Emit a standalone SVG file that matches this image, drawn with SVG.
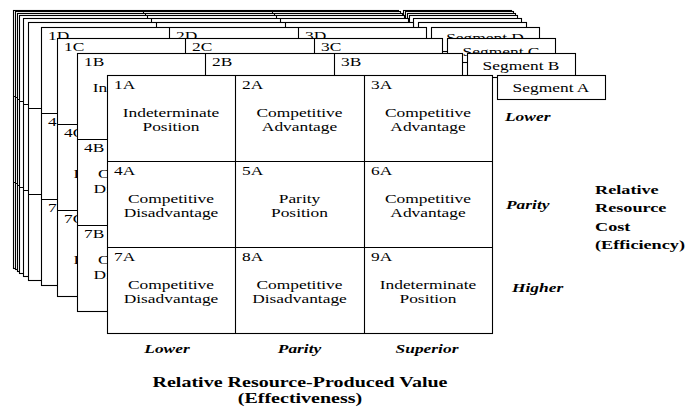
<svg xmlns="http://www.w3.org/2000/svg" width="700" height="409" viewBox="0 0 700 409">
<style>
.fr{fill:#fff;stroke:#000;stroke-width:1.1}
.gl{fill:none;stroke:#000;stroke-width:1.1}
text{font-family:"Liberation Serif","Times New Roman",serif;font-size:12px;fill:#000}
.c{text-anchor:middle}
.bi{font-weight:bold;font-style:italic}
.b{font-weight:bold}
.t14{font-size:14px}
.t13{font-size:13.5px}
</style>
<defs>
<g id="layer">
<rect class="fr" x="0.5" y="0.5" width="385" height="258"/>
<path class="gl" d="M128.5 0.5V258.5M257.5 0.5V258.5M0.5 86.5H385.5M0.5 172.5H385.5"/>
<rect class="fr" x="390.5" y="0.5" width="108" height="24"/>
</g>
</defs>
<rect width="700" height="409" fill="#fff"/>

<g id="layer-J"><use href="#layer" x="13" y="10"/></g>
<g id="layer-I"><use href="#layer" x="15" y="11"/></g>
<g id="layer-H"><use href="#layer" x="17" y="13"/></g>
<g id="layer-G"><use href="#layer" x="19" y="15"/></g>
<g id="layer-F"><use href="#layer" x="23" y="18"/></g>
<g id="layer-E"><use href="#layer" x="28" y="22"/></g>

<g id="layer-D">
<use href="#layer" x="41" y="27"/>
<text transform="translate(485,42) scale(1.45,1)" class="c">Segment D</text>
<text transform="translate(48,40) scale(1.45,1)">1D</text>
<text transform="translate(176,40) scale(1.45,1)">2D</text>
<text transform="translate(305,40) scale(1.45,1)">3D</text>
<text transform="translate(48,126) scale(1.45,1)">4D</text>
<text transform="translate(48,212) scale(1.45,1)">7D</text>
</g>

<g id="layer-C">
<use href="#layer" x="57" y="38"/>
<text transform="translate(501,55.5) scale(1.45,1)" class="c">Segment C</text>
<text transform="translate(64,51) scale(1.45,1)">1C</text>
<text transform="translate(192,51) scale(1.45,1)">2C</text>
<text transform="translate(321,51) scale(1.45,1)">3C</text>
<text transform="translate(64,137) scale(1.45,1)">4C</text>
<text transform="translate(64,223) scale(1.45,1)">7C</text>
<text transform="translate(73.6,177.5) scale(1.45,1)">D</text>
<text transform="translate(73.6,263.5) scale(1.45,1)">D</text>
</g>

<g id="layer-B">
<use href="#layer" x="77" y="53"/>
<text transform="translate(521,69.5) scale(1.45,1)" class="c">Segment B</text>
<text transform="translate(84,66) scale(1.45,1)">1B</text>
<text transform="translate(212,66) scale(1.45,1)">2B</text>
<text transform="translate(341,66) scale(1.45,1)">3B</text>
<text transform="translate(84,152) scale(1.45,1)">4B</text>
<text transform="translate(84,238) scale(1.45,1)">7B</text>
<text transform="translate(92.7,92) scale(1.45,1)">In</text>
<text transform="translate(98,178) scale(1.45,1)">C</text>
<text transform="translate(93.6,192.5) scale(1.45,1)">Di</text>
<text transform="translate(98,264) scale(1.45,1)">C</text>
<text transform="translate(93.6,278.5) scale(1.45,1)">Di</text>
</g>

<g id="layer-A">
<use href="#layer" x="107" y="75"/>
<text transform="translate(551,92) scale(1.45,1)" class="c">Segment A</text>
<g id="cell-1A"><text transform="translate(114,89) scale(1.45,1)">1A</text>
<text transform="translate(171,117) scale(1.45,1)" class="c"><tspan x="0">Indeterminate</tspan><tspan x="0" dy="14.5">Position</tspan></text></g>
<g id="cell-2A"><text transform="translate(242,89) scale(1.45,1)">2A</text>
<text transform="translate(299.5,117) scale(1.45,1)" class="c"><tspan x="0">Competitive</tspan><tspan x="0" dy="14.5">Advantage</tspan></text></g>
<g id="cell-3A"><text transform="translate(371,89) scale(1.45,1)">3A</text>
<text transform="translate(428,117) scale(1.45,1)" class="c"><tspan x="0">Competitive</tspan><tspan x="0" dy="14.5">Advantage</tspan></text></g>
<g id="cell-4A"><text transform="translate(114,175) scale(1.45,1)">4A</text>
<text transform="translate(171,203) scale(1.45,1)" class="c"><tspan x="0">Competitive</tspan><tspan x="0" dy="14.5">Disadvantage</tspan></text></g>
<g id="cell-5A"><text transform="translate(242,175) scale(1.45,1)">5A</text>
<text transform="translate(299.5,203) scale(1.45,1)" class="c"><tspan x="0">Parity</tspan><tspan x="0" dy="14.5">Position</tspan></text></g>
<g id="cell-6A"><text transform="translate(371,175) scale(1.45,1)">6A</text>
<text transform="translate(428,203) scale(1.45,1)" class="c"><tspan x="0">Competitive</tspan><tspan x="0" dy="14.5">Advantage</tspan></text></g>
<g id="cell-7A"><text transform="translate(114,261) scale(1.45,1)">7A</text>
<text transform="translate(171,289) scale(1.45,1)" class="c"><tspan x="0">Competitive</tspan><tspan x="0" dy="14.5">Disadvantage</tspan></text></g>
<g id="cell-8A"><text transform="translate(242,261) scale(1.45,1)">8A</text>
<text transform="translate(299.5,289) scale(1.45,1)" class="c"><tspan x="0">Competitive</tspan><tspan x="0" dy="14.5">Disadvantage</tspan></text></g>
<g id="cell-9A"><text transform="translate(371,261) scale(1.45,1)">9A</text>
<text transform="translate(428,289) scale(1.45,1)" class="c"><tspan x="0">Indeterminate</tspan><tspan x="0" dy="14.5">Position</tspan></text></g>
</g>

<g id="connectors"></g>

<g id="axis-x">
<text transform="translate(167,353) scale(1.45,1)" class="c bi">Lower</text>
<text transform="translate(299.5,353) scale(1.45,1)" class="c bi">Parity</text>
<text transform="translate(427,353) scale(1.45,1)" class="c bi">Superior</text>
<text transform="translate(300,387) scale(1.43,1)" class="c b t14"><tspan x="0">Relative Resource-Produced Value</tspan><tspan x="0" dy="16">(Effectiveness)</tspan></text>
</g>

<g id="axis-y">
<text transform="translate(505,121) scale(1.45,1)" class="bi">Lower</text>
<text transform="translate(506,209) scale(1.45,1)" class="bi">Parity</text>
<text transform="translate(512,292) scale(1.45,1)" class="bi">Higher</text>
<text transform="translate(595,194) scale(1.35,1)" class="b t13"><tspan x="0">Relative</tspan><tspan x="0" dy="18.5">Resource</tspan><tspan x="0" dy="18.5">Cost</tspan><tspan x="0" dy="18.5">(Efficiency)</tspan></text>
</g>
</svg>
